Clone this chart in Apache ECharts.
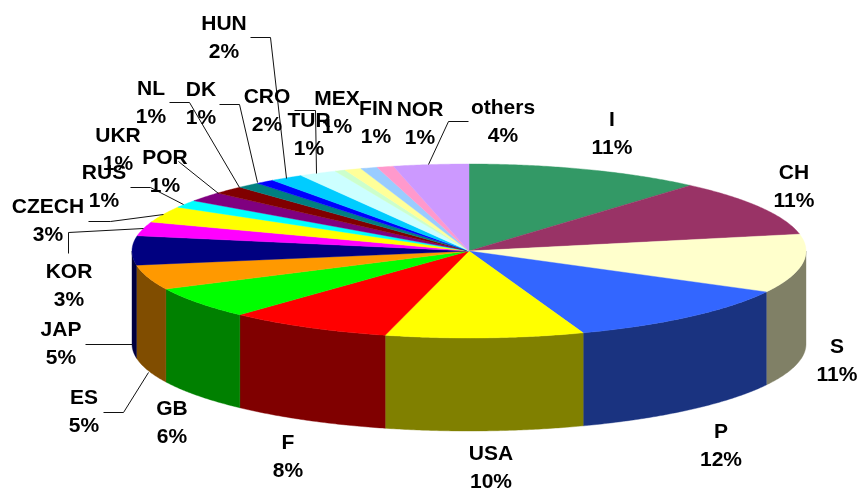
<!DOCTYPE html>
<html>
<head>
<meta charset="utf-8">
<style>
  html, body { margin: 0; padding: 0; background: #fff; }
  #chart { width: 858px; height: 488px; }
</style>
<script src="https://cdn.jsdelivr.net/npm/echarts@6/dist/echarts.min.js"></script>
</head>
<body>
<div id="chart"></div>
<script>
// slices run clockwise from 12 o'clock
const countries = ['I', 'CH', 'S', 'P', 'USA', 'F', 'GB', 'ES', 'JAP', 'KOR', 'CZECH', 'RUS', 'UKR', 'POR', 'NL', 'DK', 'CRO', 'HUN', 'TUR', 'MEX', 'FIN', 'NOR', 'others']
const shares = [11.4, 10.5, 10.9, 11.7, 9.5, 7.9, 5.9, 4.6, 5.4, 2.6, 3.0, 1.4, 1.8, 1.5, 1.1, 0.9, 1.6, 1.8, 0.5, 0.8, 0.8, 0.8, 3.6]
const shareLabels = ['11%', '11%', '11%', '12%', '10%', '8%', '6%', '5%', '5%', '3%', '3%', '1%', '1%', '1%', '1%', '1%', '2%', '2%', '1%', '1%', '1%', '1%', '4%']

const topColors = ['#339966', '#993366', '#FFFFCC', '#3366FF', '#FFFF00', '#FF0000', '#00FF00', '#FF9900', '#000080', '#FF00FF', '#FFFF00', '#00FFFF', '#800080', '#800000', '#008080', '#0000FF', '#00CCFF', '#CCFFFF', '#CCFFCC', '#FFFF99', '#99CCFF', '#FF99CC', '#CC99FF']
const wallColors = ['#1A4D33', '#4D1A33', '#808066', '#1A3380', '#808000', '#800000', '#008000', '#804D00', '#000040', '#800080', '#808000', '#008080', '#400040', '#400000', '#004040', '#000080', '#006680', '#668080', '#668066', '#80804D', '#4D6680', '#804D66', '#664D80']

// pie geometry, in pixels
const cx = 469
const cy = 251
const rx = 337
const ry = 87
const depth = 93

// label centres, same order as countries
const labelCenters = [[612, 134], [794, 187], [837, 361], [721, 446], [491, 468], [288, 457], [172, 423], [84, 412], [61, 344], [69, 286], [48, 221], [104, 187], [118, 150], [165, 172], [151, 103], [201, 104], [267, 111], [224, 38], [309, 135], [337, 113], [376, 123], [420, 124], [503, 122]]

// leader lines that the chart draws by hand
const leaderLines = [
  [[250, 37], [270, 37], [286, 178]],
  [[169, 102], [189, 102], [239, 187]],
  [[219, 104], [239, 104], [257, 182]],
  [[294, 110], [315, 110], [316, 173]],
  [[178, 161], [218, 193]],
  [[130, 187], [150, 187], [183, 204]],
  [[88, 221], [110, 221], [163, 214]],
  [[68, 253], [68, 232], [143, 228]],
  [[85, 344], [132, 344]],
  [[103, 412], [123, 412], [148, 372]],
  [[468, 121], [448, 121], [428, 164]]
]

const total = shares.reduce((a, b) => a + b, 0)
const startAngles = []
let running = 0
shares.forEach(v => {
  startAngles.push(running / total * 360)
  running += v
})

const rimPoint = (deg, dy) => {
  const t = deg * Math.PI / 180
  return [cx + rx * Math.sin(t), cy - ry * Math.cos(t) + dy]
}

const arcPoints = (from, to, dy) => {
  const pts = []
  const steps = Math.max(2, Math.ceil((to - from) * 2))
  for (let i = 0; i <= steps; i++) {
    pts.push(rimPoint(from + (to - from) * i / steps, dy))
  }
  return pts
}

const renderTop = (params, api) => {
  const i = params.dataIndex
  const from = startAngles[i]
  const to = from + api.value(0) / total * 360
  return {
    type: 'polygon',
    shape: { points: [[cx, cy]].concat(arcPoints(from, to, 0)) },
    style: { fill: topColors[i], stroke: topColors[i], lineWidth: 0.4 }
  }
}

// only the front half of the rim shows a wall
const renderWall = (params, api) => {
  const i = params.dataIndex
  const from = Math.max(startAngles[i], 90)
  const to = Math.min(startAngles[i] + api.value(0) / total * 360, 270)
  if (to <= from) return null
  return {
    type: 'polygon',
    shape: { points: arcPoints(from, to, 0).concat(arcPoints(from, to, depth).reverse()) },
    style: { fill: wallColors[i], stroke: wallColors[i], lineWidth: 0.4 }
  }
}

// half pixel shift keeps the horizontal runs crisp
const renderLeader = (params) => ({
  type: 'polyline',
  shape: { points: leaderLines[params.dataIndex].map(p => [p[0] + 0.5, p[1] + 0.5]) },
  style: { fill: 'none', stroke: '#111', lineWidth: 1 }
})

const renderLabel = (params) => {
  const i = params.dataIndex
  return {
    type: 'text',
    x: labelCenters[i][0],
    y: labelCenters[i][1],
    style: {
      text: countries[i] + '\n' + shareLabels[i],
      fill: '#000',
      font: 'bold 21px "Liberation Sans", Arial, sans-serif',
      lineHeight: 28.5,
      align: 'center',
      verticalAlign: 'middle'
    }
  }
}

const chartInstance = echarts.init(document.getElementById('chart'), null, { renderer: 'canvas' })
chartInstance.setOption({
  animation: false,
  backgroundColor: '#fff',
  series: [
    { type: 'custom', coordinateSystem: 'none', silent: true, z: 1, renderItem: renderWall, data: shares.map(v => [v]) },
    { type: 'custom', coordinateSystem: 'none', silent: true, z: 2, renderItem: renderTop, data: shares.map(v => [v]) },
    { type: 'custom', coordinateSystem: 'none', silent: true, z: 3, renderItem: renderLeader, data: leaderLines.map((l, i) => [i]) },
    { type: 'custom', coordinateSystem: 'none', silent: true, z: 4, renderItem: renderLabel, data: countries.map((n, i) => [i]) }
  ]
})
</script>
</body>
</html>
